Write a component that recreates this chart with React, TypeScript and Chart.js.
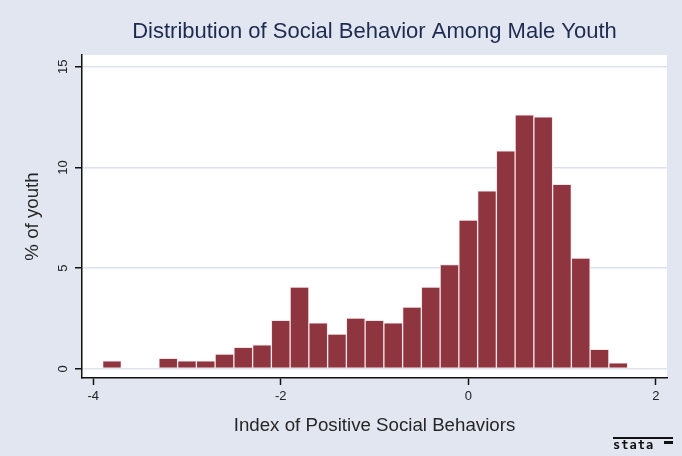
import React, { useEffect, useRef } from "react";
import { Chart, registerables } from "chart.js";

Chart.register(...registerables);

const TITLE = "Distribution of Social Behavior Among Male Youth";
const X_TITLE = "Index of Positive Social Behaviors";
const Y_TITLE = "% of youth";

// Histogram bin midpoints (bin width 0.2)
const BIN_MIDPOINTS = [
  -3.8, -3.6, -3.4, -3.2, -3.0, -2.8, -2.6, -2.4, -2.2, -2.0, -1.8, -1.6, -1.4, -1.2,
  -1.0, -0.8, -0.6, -0.4, -0.2, 0.0, 0.2, 0.4, 0.6, 0.8, 1.0, 1.2, 1.4, 1.6,
];
// Percent of youth in each bin
const PERCENT_YOUTH = [
  0.4, 0, 0, 0.53, 0.4, 0.4, 0.74, 1.07, 1.19, 2.41, 4.06, 2.29, 1.73, 2.52,
  2.41, 2.29, 3.07, 4.06, 5.18, 7.39, 8.84, 10.83, 12.61, 12.51, 9.16, 5.5, 0.97, 0.3,
];
const X_TICKS = [-4, -2, 0, 2];
const Y_TICKS = [0, 5, 10, 15];

const FONT = "'Liberation Sans', Arial, Helvetica, sans-serif";
const BG = "#e1e6f0";
const GRID = "#dce2ee";
const BAR = "#8f3540";

const backgroundPlugin = {
  id: "stataBackground",
  beforeDraw(chart: any) {
    const { ctx, chartArea, width, height } = chart;
    ctx.save();
    ctx.fillStyle = BG;
    ctx.fillRect(0, 0, width, height);
    ctx.fillStyle = "#ffffff";
    ctx.fillRect(chartArea.left, chartArea.top, chartArea.right - chartArea.left, chartArea.bottom - chartArea.top);
    ctx.restore();
  },
  afterDraw(chart: any) {
    const { ctx } = chart;
    ctx.save();
    ctx.fillStyle = "#111";
    ctx.fillRect(613, 437, 60, 2);
    ctx.font = `bold 12px 'DejaVu Sans Mono', monospace`;
    (ctx as any).letterSpacing = "1px";
    ctx.textBaseline = "alphabetic";
    ctx.textAlign = "left";
    ctx.fillText("stata", 613, 449);
    ctx.fillRect(664, 441, 9, 3);
    ctx.restore();
  },
};

export default function App() {
  const canvasRef = useRef<HTMLCanvasElement | null>(null);

  useEffect(() => {
    const canvas = canvasRef.current;
    if (!canvas) return;
    const chart = new Chart(canvas, {
      type: "bar",
      data: {
        datasets: [
          {
            label: Y_TITLE,
            data: BIN_MIDPOINTS.map((x, i) => ({ x, y: PERCENT_YOUTH[i] })),
            backgroundColor: BAR,
            borderColor: "#f4e6e8",
            borderWidth: 1,
            borderSkipped: false,
            barPercentage: 1,
            categoryPercentage: 1,
          },
        ],
      },
      plugins: [backgroundPlugin],
      options: {
        animation: false,
        responsive: false,
        devicePixelRatio: 1,
        layout: { padding: { left: 0, right: 15, top: 0, bottom: 0 } },
        plugins: {
          legend: { display: false },
          tooltip: { enabled: false },
          title: {
            display: true,
            text: TITLE,
            fullSize: false,
            color: "#1e2b50",
            font: { family: FONT, size: 22, weight: "normal" },
            padding: { top: 18.5, bottom: 10.1 },
          },
        },
        scales: {
          x: {
            type: "linear",
            min: -4.12,
            max: 2.12,
            offset: false,
            afterFit: (scale: any) => {
              scale.height = 78;
            },
            afterBuildTicks: (scale: any) => {
              scale.ticks = X_TICKS.map((v) => ({ value: v }));
            },
            grid: {
              display: true,
              drawOnChartArea: false,
              drawTicks: true,
              tickLength: 7,
              tickColor: "#111",
              tickWidth: 1.5,
              offset: false,
            },
            border: { display: true, color: "#111", width: 1.5 },
            ticks: {
              color: "#222",
              font: { family: FONT, size: 13 },
              padding: 4,
              maxRotation: 0,
              minRotation: 0,
              autoSkip: false,
              callback: (v: any) => String(v),
            },
            title: {
              display: true,
              text: X_TITLE,
              color: "#262626",
              font: { family: FONT, size: 18.7 },
              padding: { top: 4, bottom: 19.3 },
            },
          },
          y: {
            type: "linear",
            min: -0.45,
            max: 15.58,
            afterFit: (scale: any) => {
              scale.width = 82;
            },
            afterBuildTicks: (scale: any) => {
              scale.ticks = Y_TICKS.map((v) => ({ value: v }));
            },
            grid: {
              display: true,
              drawOnChartArea: true,
              drawTicks: true,
              color: GRID,
              lineWidth: 1.5,
              tickLength: 7,
              tickColor: "#111",
              tickWidth: 1.5,
            },
            border: { display: true, color: "#111", width: 1.5 },
            ticks: {
              color: "#222",
              font: { family: FONT, size: 13 },
              padding: 4,
              minRotation: 90,
              maxRotation: 90,
              crossAlign: "center",
              autoSkip: false,
              callback: (v: any) => String(v),
            },
            title: {
              display: true,
              text: Y_TITLE,
              color: "#262626",
              font: { family: FONT, size: 18.7 },
              padding: { top: 21.3, bottom: 4 },
            },
          },
        },
      },
    } as any);
    return () => chart.destroy();
  }, []);

  return (
    <div style={{ position: "absolute", left: 0, top: 0, width: 682, height: 456 }}>
      <canvas ref={canvasRef} width={682} height={456} style={{ width: 682, height: 456, display: "block" }} />
    </div>
  );
}
